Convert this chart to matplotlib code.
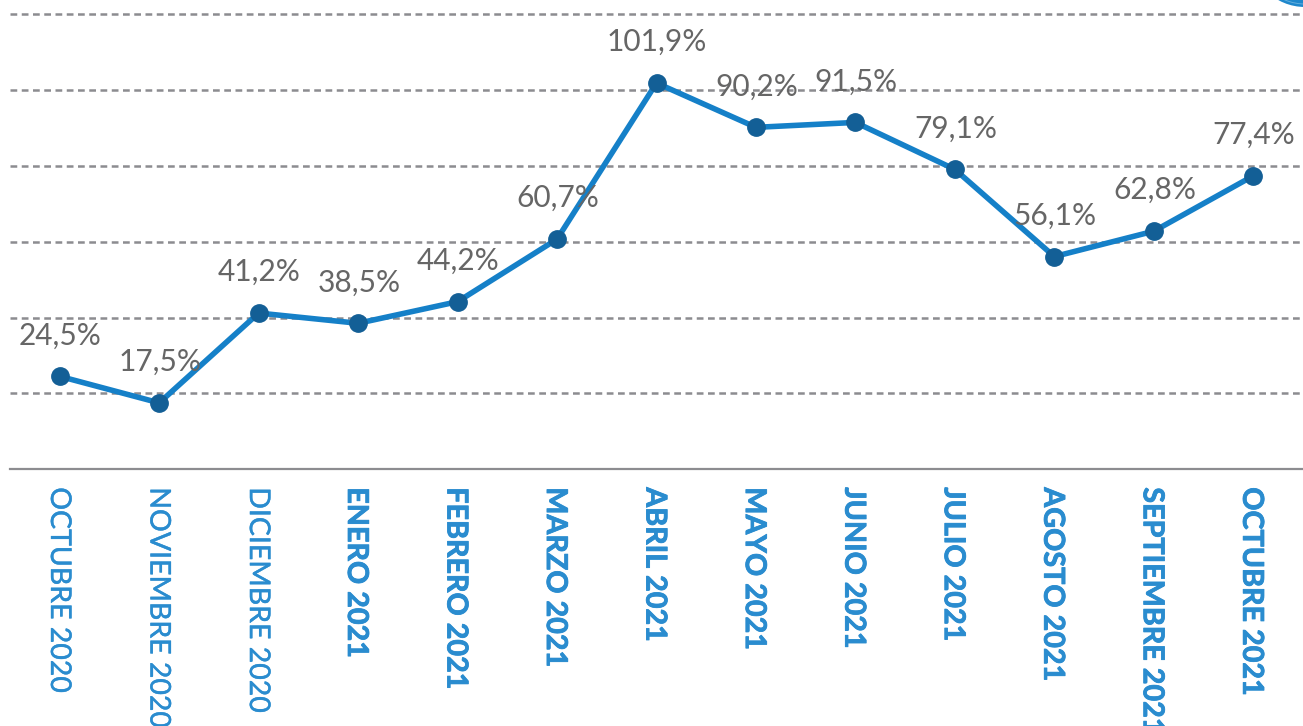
import matplotlib
matplotlib.use('Agg')
import matplotlib.pyplot as plt
import matplotlib.patheffects as pe
from matplotlib.patches import Circle

months = ['OCTUBRE 2020', 'NOVIEMBRE 2020', 'DICIEMBRE 2020', 'ENERO 2021',
          'FEBRERO 2021', 'MARZO 2021', 'ABRIL 2021', 'MAYO 2021', 'JUNIO 2021',
          'JULIO 2021', 'AGOSTO 2021', 'SEPTIEMBRE 2021', 'OCTUBRE 2021']
values = [24.5, 17.5, 41.2, 38.5, 44.2, 60.7, 101.9, 90.2, 91.5, 79.1, 56.1, 62.8, 77.4]
grid_values = [20, 40, 60, 80, 100, 120]

plt.rcParams['font.family'] = ['Lato', 'DejaVu Sans']

W, H = 1303, 726
fig = plt.figure(figsize=(W / 100, H / 100), dpi=100)
ax = fig.add_axes([10 / W, (H - 469.2) / H, (W - 10) / W, 469.2 / H])

# dashed grid behind the line
ax.set_yticks(grid_values)
ax.yaxis.grid(True, color='#8c8c90', linewidth=1.8, linestyle=(0, (2.7, 1.8)))
ax.set_axisbelow(True)

xs = list(range(len(months)))
ax.plot(xs, values, color='#1580c8', linewidth=4, solid_capstyle='round',
        marker='o', markersize=12.5, markerfacecolor='#135f96', markeredgecolor='#135f96')

for x, v in zip(xs, values):
    ax.annotate(f'{v:.1f}%'.replace('.', ','), (x, v), xytext=(0.5, 29.5),
                textcoords='offset points', ha='center', va='center',
                fontsize=21.5, color='#666666')

ax.set_xlim(-0.5, 12.5)
ax.set_ylim(0, 469.2 / 3.79)

# month names hang below the axis line, 2021 in bold
ax.set_xticks(xs)
ax.set_xticklabels([])
ax.tick_params(axis='both', length=0, labelleft=False)
for i, (x, name) in enumerate(zip(xs, months)):
    bold = i >= 3
    txt = ax.annotate(name, (x, 0), xycoords=ax.get_xaxis_transform(),
                      xytext=(-1.5 if bold else -0.5, -13), textcoords='offset points',
                      rotation=270, ha='center', va='top', annotation_clip=False,
                      fontsize=20.7 if bold else 20.5, color='#2a8ccf',
                      fontweight='bold' if bold else 'normal')
    stroke = 0.6 if bold else 0.3
    txt.set_path_effects([pe.withStroke(linewidth=stroke, foreground='#2a8ccf')])

for side in ['top', 'right', 'left']:
    ax.spines[side].set_visible(False)
ax.spines['bottom'].set_color('#8c8c90')
ax.spines['bottom'].set_linewidth(1.6)

# piece of the round badge in the top right corner
fig.add_artist(Circle((1305, H + 48), 55, transform=None, facecolor='#1f88cc', edgecolor='none'))
fig.add_artist(Circle((1305, H + 48), 52, transform=None, facecolor='none', edgecolor='#62aede', linewidth=0.7))

fig.savefig('out.png', dpi=100)
